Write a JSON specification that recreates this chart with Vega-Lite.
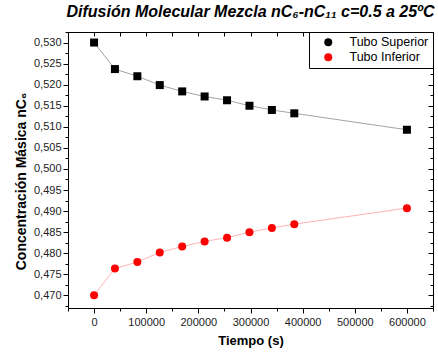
{
  "$schema": "https://vega.github.io/schema/vega-lite/v6.json",
  "autosize": "none",
  "width": 365,
  "height": 276,
  "padding": {"left": 68, "top": 32, "right": 5, "bottom": 47},
  "background": "white",
  "config": {
    "view": {"stroke": null},
    "font": "Liberation Sans",
    "axis": {"grid": false, "domainColor": "#000", "tickColor": "#000", "labelColor": "#222", "labelFont": "Liberation Sans", "labelFontSize": 11, "titleFont": "Liberation Sans", "titleColor": "#000", "labelFlush": false, "labelOverlap": false}
  },
  "title": {
    "text": "Difusión Molecular Mezcla nC₆-nC₁₁ c=0.5 a 25ºC",
    "font": "Liberation Sans",
    "fontSize": 16,
    "fontStyle": "italic",
    "fontWeight": "bold",
    "color": "#000",
    "anchor": "middle",
    "frame": "group",
    "offset": 6
  },
  "data": {
    "values": [
      {"serie": "Tubo Superior", "t": 0, "c": 0.5300},
      {"serie": "Tubo Superior", "t": 40000, "c": 0.5237},
      {"serie": "Tubo Superior", "t": 83000, "c": 0.5220},
      {"serie": "Tubo Superior", "t": 126000, "c": 0.5199},
      {"serie": "Tubo Superior", "t": 169000, "c": 0.5184},
      {"serie": "Tubo Superior", "t": 212000, "c": 0.5172},
      {"serie": "Tubo Superior", "t": 255000, "c": 0.5163},
      {"serie": "Tubo Superior", "t": 298000, "c": 0.5150},
      {"serie": "Tubo Superior", "t": 341000, "c": 0.5140},
      {"serie": "Tubo Superior", "t": 384000, "c": 0.5132},
      {"serie": "Tubo Superior", "t": 600000, "c": 0.5093},
      {"serie": "Tubo Inferior", "t": 0, "c": 0.4700},
      {"serie": "Tubo Inferior", "t": 40000, "c": 0.4764},
      {"serie": "Tubo Inferior", "t": 83000, "c": 0.4779},
      {"serie": "Tubo Inferior", "t": 126000, "c": 0.4802},
      {"serie": "Tubo Inferior", "t": 169000, "c": 0.4816},
      {"serie": "Tubo Inferior", "t": 212000, "c": 0.4828},
      {"serie": "Tubo Inferior", "t": 255000, "c": 0.4837},
      {"serie": "Tubo Inferior", "t": 298000, "c": 0.4850},
      {"serie": "Tubo Inferior", "t": 341000, "c": 0.4860},
      {"serie": "Tubo Inferior", "t": 384000, "c": 0.4869},
      {"serie": "Tubo Inferior", "t": 600000, "c": 0.4907}
    ]
  },
  "resolve": {"axis": {"x": "independent", "y": "independent"}},
  "layer": [
    {
      "transform": [{"filter": "datum.serie === 'Tubo Superior'"}],
      "mark": {"type": "line", "strokeWidth": 0.8, "color": "#8c8c8c"},
      "encoding": {
        "x": {
          "field": "t", "type": "quantitative",
          "scale": {"domain": [-50000, 650000], "nice": false, "zero": false},
          "axis": {
            "orient": "bottom",
            "values": [-50000, 0, 50000, 100000, 150000, 200000, 250000, 300000, 350000, 400000, 450000, 500000, 550000, 600000, 650000],
            "labelExpr": "(datum.value % 100000 === 0 && datum.value >= 0 && datum.value <= 600000) ? format(datum.value, 'd') : ''",
            "tickSize": {"condition": {"test": "datum.value % 100000 === 0", "value": 5}, "value": 3},
            "labelPadding": 3,
            "title": "Tiempo (s)",
            "titleFontSize": 13,
            "titleFontWeight": "bold",
            "titlePadding": 7
          }
        },
        "y": {
          "field": "c", "type": "quantitative",
          "scale": {"domain": [0.467, 0.5325], "nice": false, "zero": false},
          "axis": {
            "orient": "left",
            "values": [0.4675, 0.47, 0.4725, 0.475, 0.4775, 0.48, 0.4825, 0.485, 0.4875, 0.49, 0.4925, 0.495, 0.4975, 0.5, 0.5025, 0.505, 0.5075, 0.51, 0.5125, 0.515, 0.5175, 0.52, 0.5225, 0.525, 0.5275, 0.53, 0.5325],
            "labelExpr": "abs(datum.value * 200 - round(datum.value * 200)) < 0.01 ? replace(format(datum.value, '.3f'), '.', ',') : ''",
            "tickSize": {"condition": {"test": "abs(datum.value * 200 - round(datum.value * 200)) < 0.01", "value": 5}, "value": 3},
            "labelPadding": 2,
            "title": "Concentración Másica nC₆",
            "titleFontSize": 14,
            "titleFontWeight": "bold",
            "titlePadding": 5,
            "titleY": 149
          }
        }
      }
    },
    {
      "transform": [{"filter": "datum.serie === 'Tubo Inferior'"}],
      "mark": {"type": "line", "strokeWidth": 0.8, "color": "#ff9f9f"},
      "encoding": {
        "x": {"field": "t", "type": "quantitative", "axis": null},
        "y": {"field": "c", "type": "quantitative", "axis": null}
      }
    },
    {
      "transform": [{"filter": "datum.serie === 'Tubo Superior'"}],
      "mark": {"type": "point", "filled": true, "opacity": 1, "size": 64, "shape": "square"},
      "encoding": {
        "x": {
          "field": "t", "type": "quantitative",
          "axis": {
            "orient": "top",
            "values": [-50000, 0, 50000, 100000, 150000, 200000, 250000, 300000, 350000, 400000, 450000, 500000, 550000, 600000, 650000],
            "labels": false,
            "title": null,
            "tickSize": -4
          }
        },
        "y": {
          "field": "c", "type": "quantitative",
          "axis": {
            "orient": "right",
            "values": [0.4675, 0.47, 0.4725, 0.475, 0.4775, 0.48, 0.4825, 0.485, 0.4875, 0.49, 0.4925, 0.495, 0.4975, 0.5, 0.5025, 0.505, 0.5075, 0.51, 0.5125, 0.515, 0.5175, 0.52, 0.5225, 0.525, 0.5275, 0.53, 0.5325],
            "labels": false,
            "title": null,
            "tickSize": {"condition": {"test": "abs(datum.value * 200 - round(datum.value * 200)) < 0.01", "value": -5}, "value": -3}
          }
        },
        "color": {
          "field": "serie", "type": "nominal",
          "scale": {"domain": ["Tubo Superior", "Tubo Inferior"], "range": ["#000000", "#ff0000"]},
          "legend": {
            "title": null,
            "orient": "top-right",
            "offset": 0,
            "padding": 4,
            "strokeColor": "#000",
            "fillColor": "white",
            "labelFont": "Liberation Sans",
            "labelFontSize": 12.5,
            "labelColor": "#000",
            "symbolSize": 64,
            "symbolOffset": 9,
            "labelOffset": 15,
            "rowPadding": 2
          }
        }
      }
    },
    {
      "transform": [{"filter": "datum.serie === 'Tubo Inferior'"}],
      "mark": {"type": "point", "filled": true, "opacity": 1, "size": 64, "shape": "circle"},
      "encoding": {
        "x": {"field": "t", "type": "quantitative", "axis": null},
        "y": {"field": "c", "type": "quantitative", "axis": null},
        "color": {"field": "serie", "type": "nominal"}
      }
    }
  ]
}
